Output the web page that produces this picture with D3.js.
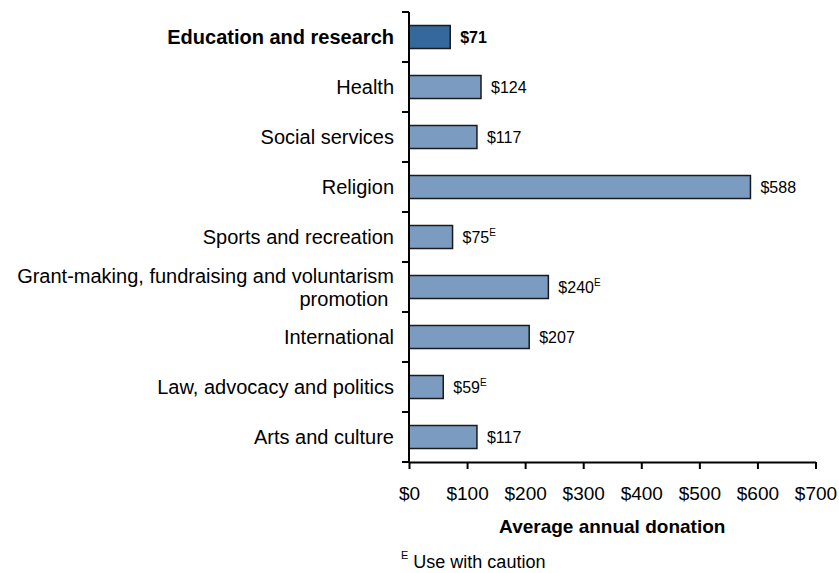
<!DOCTYPE html>
<html>
<head>
<meta charset="utf-8">
<script src="https://cdn.jsdelivr.net/npm/d3@7"></script>
<style>
  body { margin: 0; background: #fff; }
  svg { display: block; font-family: "Liberation Sans", Arial, sans-serif; }
</style>
</head>
<body>
<svg id="chart" width="839" height="573"></svg>
<script>
// Average annual donation by cause
const categories = [
  "Education and research",
  "Health",
  "Social services",
  "Religion",
  "Sports and recreation",
  "Grant-making, fundraising and voluntarism promotion",
  "International",
  "Law, advocacy and politics",
  "Arts and culture"
];
const labelLines = [
  ["Education and research"],
  ["Health"],
  ["Social services"],
  ["Religion"],
  ["Sports and recreation"],
  ["Grant-making, fundraising and voluntarism", "promotion "],
  ["International"],
  ["Law, advocacy and politics"],
  ["Arts and culture"]
];
const donations = [71, 124, 117, 588, 75, 240, 207, 59, 117];
const caution = [false, false, false, false, true, true, false, true, false];
const highlight = "Education and research";
const xTicks = [0, 100, 200, 300, 400, 500, 600, 700];

const svg = d3.select("#chart");
const plotLeft = 409, plotRight = 815.5, plotTop = 12, plotBottom = 462;

const x = d3.scaleLinear().domain([0, 700]).range([plotLeft, plotRight]);
const y = d3.scaleBand().domain(categories).range([plotTop, plotBottom]).paddingInner(0.54).paddingOuter(0.27);

// Bars
svg.append("g").selectAll("rect")
  .data(categories)
  .join("rect")
  .attr("x", x(0))
  .attr("y", d => y(d))
  .attr("width", (d, i) => x(donations[i]) - x(0))
  .attr("height", y.bandwidth())
  .attr("fill", d => d === highlight ? "#35689c" : "#7b9cc0")
  .attr("stroke", "#1a1a1a")
  .attr("stroke-width", 1.5);

// Value labels
const vals = svg.append("g").selectAll("text")
  .data(categories)
  .join("text")
  .attr("x", (d, i) => x(donations[i]) + 10)
  .attr("y", d => y(d) + y.bandwidth() / 2)
  .attr("dy", "0.38em")
  .attr("font-size", 16)
  .attr("font-weight", d => d === highlight ? "bold" : "normal")
  .attr("fill", "#000");
vals.append("tspan").text((d, i) => "$" + donations[i]);
vals.filter((d, i) => caution[i])
  .append("tspan")
  .attr("font-size", 10)
  .attr("dy", "-0.7em")
  .text("E");

// Category labels
const cats = svg.append("g").selectAll("text")
  .data(categories)
  .join("text")
  .attr("text-anchor", "end")
  .attr("font-size", 20)
  .attr("font-weight", d => d === highlight ? "bold" : "normal")
  .attr("fill", "#000");
cats.each(function(d, i) {
  const lines = labelLines[i];
  const cy = y(d) + y.bandwidth() / 2;
  const lh = 23;
  lines.forEach((ln, j) => {
    d3.select(this).append("tspan")
      .attr("x", 394)
      .attr("y", cy + (j - (lines.length - 1) / 2) * lh)
      .attr("dy", "0.37em")
      .attr("xml:space", "preserve")
      .text(ln);
  });
});

// Y axis line with category separators
const yTickPos = d3.range(categories.length + 1).map(i => plotTop + i * (plotBottom - plotTop) / categories.length);
const yAxis = svg.append("g");
yAxis.append("line")
  .attr("x1", plotLeft).attr("x2", plotLeft)
  .attr("y1", plotTop).attr("y2", plotBottom + 1)
  .attr("stroke", "#000").attr("stroke-width", 2);
yAxis.selectAll("line.tick")
  .data(yTickPos)
  .join("line")
  .attr("class", "tick")
  .attr("x1", plotLeft - 7).attr("x2", plotLeft)
  .attr("y1", d => d).attr("y2", d => d)
  .attr("stroke", "#000").attr("stroke-width", 2);

// X axis
const xAxis = svg.append("g")
  .attr("transform", `translate(0,${plotBottom})`)
  .call(d3.axisBottom(x).tickValues(xTicks).tickFormat(d => "$" + d).tickSizeInner(7).tickSizeOuter(0).tickPadding(18));
xAxis.select(".domain").attr("stroke", "#000").attr("stroke-width", 2);
xAxis.selectAll(".tick line").attr("stroke", "#000").attr("stroke-width", 2);
xAxis.selectAll(".tick text")
  .attr("font-size", 19)
  .attr("font-family", "Liberation Sans, Arial, sans-serif")
  .attr("fill", "#000");

// Axis title
svg.append("text")
  .attr("x", (plotLeft + plotRight) / 2)
  .attr("y", 533)
  .attr("text-anchor", "middle")
  .attr("font-size", 19)
  .attr("font-weight", "bold")
  .text("Average annual donation");

// Footnote
const note = svg.append("text")
  .attr("x", 401)
  .attr("y", 568)
  .attr("font-size", 18)
  .attr("fill", "#000");
note.append("tspan").attr("font-size", 11).attr("dy", "-0.85em").text("E");
note.append("tspan").attr("dy", "0.52em").text(" Use with caution");
</script>
</body>
</html>
